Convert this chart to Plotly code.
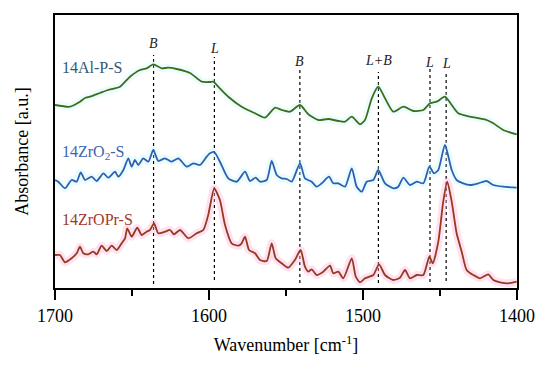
import plotly.graph_objects as go

# ---------------- data ----------------
green_wn = [1700, 1690.3, 1683.8, 1680.5, 1677.3, 1670.8, 1665.6, 1657.8, 1651.3, 1644.8, 1640.5,
            1636.2, 1630.7, 1626.6, 1621.0, 1612.3, 1604.7, 1599.4, 1597.2, 1594.0, 1587.5, 1578.8,
            1570.1, 1563.6, 1557.1, 1552.8, 1547.4, 1540.9, 1535.5, 1529.0, 1522.5, 1516.0, 1511.7,
            1507.3, 1501.9, 1498.7, 1494.3, 1490.1, 1485.7, 1480.3, 1473.8, 1467.3, 1460.8, 1456.5,
            1452.1, 1446.8, 1442.4, 1438.1, 1430.5, 1419.7, 1415.4, 1408.9, 1400.2]
green_abs = [1.83, 1.813, 1.863, 1.90, 1.913, 1.95, 1.98, 2.013, 2.113, 2.18, 2.197,
             2.237, 2.197, 2.203, 2.19, 2.15, 2.063, 2.06, 2.063, 2.013, 1.913, 1.813,
             1.747, 1.703, 1.803, 1.78, 1.763, 1.83, 1.737, 1.68, 1.69, 1.67, 1.663,
             1.713, 1.637, 1.68, 1.897, 2.013, 1.897, 1.763, 1.813, 1.77, 1.78, 1.847,
             1.863, 1.913, 1.83, 1.747, 1.713, 1.68, 1.647, 1.58, 1.537]

blue_wn = [1700, 1697.9, 1693.5, 1689.2, 1685.9, 1683.3, 1680.5, 1676.2, 1672.9, 1668.6, 1665.4,
           1661.0, 1658.9, 1655.6, 1652.4, 1650.2, 1648.1, 1645.9, 1642.7, 1639.4, 1636.2, 1632.9,
           1628.6, 1624.2, 1619.9, 1614.5, 1610.2, 1605.8, 1601.5, 1599.4, 1596.6, 1592.9, 1587.5,
           1582.0, 1576.6, 1573.4, 1569.7, 1566.9, 1562.5, 1559.3, 1556.0, 1552.8, 1549.5, 1546.3,
           1540.9, 1537.7, 1533.3, 1530.1, 1526.8, 1522.1, 1519.3, 1516.0, 1511.7, 1507.3, 1504.1,
           1500.8, 1497.6, 1493.3, 1490.1, 1485.7, 1480.3, 1477.1, 1473.8, 1469.5, 1465.1, 1460.8,
           1456.9, 1453.9, 1451.1, 1446.8, 1442.4, 1439.2, 1434.9, 1430.5, 1425.1, 1419.7, 1415.4,
           1408.9, 1400.2]
blue_abs = [1.08, 1.063, 0.997, 1.08, 1.063, 1.157, 1.08, 1.113, 1.07, 1.147, 1.103,
            1.163, 1.113, 1.18, 1.297, 1.213, 1.28, 1.23, 1.297, 1.263, 1.38, 1.27,
            1.297, 1.263, 1.297, 1.213, 1.247, 1.23, 1.313, 1.347, 1.36, 1.263, 1.097,
            1.063, 1.163, 1.07, 1.103, 1.063, 1.08, 1.27, 1.13, 1.097, 1.09, 1.063,
            1.247, 1.097, 1.063, 1.013, 1.047, 1.113, 1.047, 1.047, 1.013, 1.197, 1.013,
            0.963, 1.063, 1.08, 1.18, 1.047, 0.997, 1.013, 1.103, 1.03, 1.063, 1.047,
            1.213, 1.147, 1.18, 1.43, 1.18, 1.08, 1.047, 1.03, 1.047, 1.07, 1.03,
            1.013, 1.003]

red_wn = [1700, 1696.8, 1693.5, 1689.2, 1685.9, 1683.8, 1681.6, 1678.4, 1675.1, 1672.9, 1669.7,
          1666.4, 1663.2, 1659.9, 1656.7, 1654.5, 1653.1, 1650.2, 1646.6, 1643.7, 1640.5, 1638.3,
          1635.7, 1632.9, 1628.6, 1625.3, 1622.7, 1618.8, 1613.4, 1608.0, 1603.7, 1600.5, 1599.4,
          1596.6, 1592.9, 1589.6, 1585.3, 1581.0, 1578.8, 1576.6, 1574.0, 1570.1, 1566.9, 1562.5,
          1559.3, 1556.7, 1552.8, 1548.5, 1544.2, 1540.5, 1537.7, 1535.5, 1533.3, 1530.1, 1525.8,
          1521.4, 1519.3, 1516.0, 1512.8, 1507.3, 1504.7, 1501.9, 1498.7, 1493.3, 1489.6, 1485.7,
          1480.3, 1476.0, 1472.7, 1469.5, 1465.1, 1460.8, 1456.9, 1454.7, 1451.1, 1447.9, 1445.3,
          1442.4, 1439.2, 1435.9, 1432.7, 1428.4, 1424.0, 1418.6, 1415.4, 1411.0, 1405.7, 1400.2]
red_abs = [0.33, 0.33, 0.257, 0.297, 0.347, 0.413, 0.347, 0.337, 0.363, 0.337, 0.423,
           0.37, 0.423, 0.38, 0.447, 0.497, 0.597, 0.513, 0.603, 0.53, 0.563, 0.58,
           0.647, 0.547, 0.563, 0.58, 0.537, 0.58, 0.497, 0.547, 0.58, 0.73, 0.813,
           0.997, 0.88, 0.63, 0.447, 0.423, 0.447, 0.513, 0.38, 0.347, 0.28, 0.27,
           0.447, 0.297, 0.247, 0.203, 0.28, 0.38, 0.213, 0.163, 0.187, 0.13, 0.163,
           0.223, 0.147, 0.163, 0.097, 0.297, 0.113, 0.057, 0.097, 0.13, 0.237, 0.13,
           0.08, 0.103, 0.18, 0.097, 0.13, 0.13, 0.313, 0.247, 0.463, 0.863, 1.063,
           0.863, 0.547, 0.363, 0.18, 0.13, 0.097, 0.137, 0.08, 0.057, 0.047, 0.063]

series_names = ["14Al-P-S", "14ZrO<sub>2</sub>-S", "14ZrOPr-S"]
series_label_y = [2.21, 1.36, 0.69]

peak_wn = [1636, 1596.5, 1541, 1490, 1456.5, 1446]
peak_labels = ["B", "L", "B", "L+B", "L", "L"]
peak_line_top = [2.33, 2.31, 2.21, 2.16, 2.21, 2.15]
peak_line_bottom = [0.04, 0.08, 0.05, 0.05, 0.06, 0.07]
peak_label_y = [2.45, 2.40, 2.27, 2.28, 2.26, 2.25]

x_ticks = [1700, 1600, 1500, 1400]

# ---------------- styles ----------------
FONT = "Times New Roman, Liberation Serif, DejaVu Serif, serif"
colors = ["#3b6e1c", "#2f5fb3", "#963a1e"]
label_colors = ["#2e5a78", "#3a66ad", "#a03a2a"]
glows = ["rgba(190,245,250,0.25)", "rgba(190,245,250,0.3)", "rgba(255,180,220,0.4)"]

fig = go.Figure()
all_series = [(green_wn, green_abs), (blue_wn, blue_abs), (red_wn, red_abs)]
for (wn, ab), c, g in zip(all_series, colors, glows):
    fig.add_trace(go.Scatter(x=wn, y=ab, mode="lines", hoverinfo="skip",
                             line=dict(color=g, width=8, shape="spline", smoothing=0.6)))
for (wn, ab), c in zip(all_series, colors):
    fig.add_trace(go.Scatter(x=wn, y=ab, mode="lines",
                             line=dict(color=c, width=1.8, shape="spline", smoothing=0.6)))

for w, lab, top, bot, ly in zip(peak_wn, peak_labels, peak_line_top, peak_line_bottom, peak_label_y):
    fig.add_shape(type="line", x0=w, x1=w, y0=bot, y1=top, xref="x", yref="y",
                  line=dict(color="black", width=1.2, dash="dot"), layer="below")
    fig.add_annotation(x=w, y=ly, text=f"<i>{lab}</i>", showarrow=False,
                       font=dict(family=FONT, size=14, color="#222"))

for name, ly, lc in zip(series_names, series_label_y, label_colors):
    fig.add_annotation(x=1696.8, y=ly, text=name, showarrow=False, xanchor="left",
                       font=dict(family=FONT, size=16, color=lc))

fig.update_layout(
    width=550, height=367,
    margin=dict(l=55, r=33, t=15, b=79, autoexpand=False),
    paper_bgcolor="white", plot_bgcolor="white",
    showlegend=False,
    font=dict(family=FONT, size=18, color="black"),
)
fig.update_xaxes(
    range=[1700, 1400], tickvals=x_ticks, ticks="outside", ticklen=10, tickwidth=2,
    tickcolor="black", showline=True, linecolor="black", linewidth=2, mirror=True,
    showgrid=False, zeroline=False, automargin=False,
    minor=dict(ticks="outside", ticklen=6, tickwidth=2, dtick=50, tickcolor="black", showgrid=False),
    tickfont=dict(family=FONT, size=18, color="black"),
    title=dict(text="Wavenumber [cm<sup>-1</sup>]", font=dict(family=FONT, size=18), standoff=14),
)
fig.update_yaxes(
    range=[0, 2.73], showticklabels=False, ticks="", showline=True, linecolor="black",
    linewidth=2, mirror=True, showgrid=False, zeroline=False, automargin=False,
    title=dict(text="Absorbance [a.u.]", font=dict(family=FONT, size=18), standoff=20),
)

fig.write_html("out.html", post_script="document.body.style.margin='0';",
               config={"displayModeBar": False})
